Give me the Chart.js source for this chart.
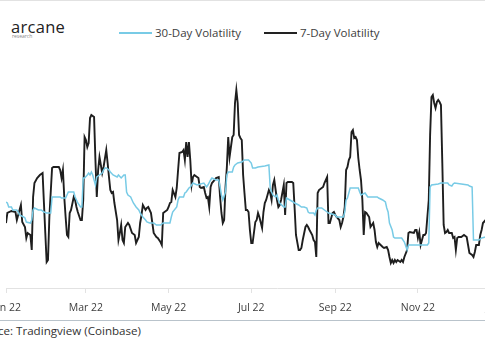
<!DOCTYPE html>
<html>
<head>
<meta charset="utf-8">
<script src="https://cdn.jsdelivr.net/npm/chart.js@4.4.1/dist/chart.umd.min.js"></script>
<style>
  html, body { margin: 0; padding: 0; background: #fff; }
  #wrap { position: relative; width: 485px; height: 360px; overflow: hidden; background: #fff; font-family: "Open Sans", sans-serif; }
  #topline { position: absolute; left: 0; top: 0; width: 485px; height: 1px; background: #e2e2e2; }
  #logo { position: absolute; left: 11px; top: 19px; font-size: 16.5px; line-height: 16px; color: #222; letter-spacing: 0.3px; }
  #logo2 { position: absolute; left: 12px; top: 33px; font-size: 5px; line-height: 6px; color: #888; }
  .lg-line { position: absolute; top: 32px; width: 33px; height: 2px; }
  .lg-text { position: absolute; top: 25px; font-size: 11.5px; line-height: 16px; color: #3d3d3d; white-space: nowrap; }
  #chartbox { position: absolute; left: -40px; top: 0; width: 600px; height: 320px; }
  #bottomline { position: absolute; left: 0; top: 320px; width: 485px; height: 1px; background: #b9c3cb; }
  #source { position: absolute; right: 344px; top: 323px; font-size: 11.6px; line-height: 16px; color: #333; white-space: nowrap; text-align: right; }
</style>
</head>
<body>
<div id="wrap">
  <div id="topline"></div>
  <div id="logo">arcane</div>
  <div id="logo2">research</div>
  <div class="lg-line" style="left:119px;background:#78cbe6;"></div>
  <div class="lg-text" style="left:155px;">30-Day Volatility</div>
  <div class="lg-line" style="left:264px;background:#222;"></div>
  <div class="lg-text" style="left:300px;">7-Day Volatility</div>
  <div id="chartbox"><canvas id="c" width="600" height="320"></canvas></div>
  <div id="bottomline"></div>
  <div id="source">Source: Tradingview (Coinbase)</div>
</div>
<script>
// Day index (0 = 1 Jan 2022) and annualized volatility (%)
const days7 = [0,1,4,7,8,9,11,12,14,15,16,18,19,20,21,23,25,27,28,29,30,31,32,34,35,39,40,41,42,43,44,45,46,47,48,50,51,52,53,55,56,57,58,59,60,61,62,63,65,66,67,68,69,71,72,74,75,76,77,78,79,80,82,83,84,85,86,87,88,90,91,93,95,96,98,99,100,101,103,104,105,107,108,109,110,111,112,114,115,116,117,119,120,121,122,123,125,126,127,128,130,131,132,133,134,135,136,137,138,139,141,142,143,144,146,147,148,149,150,151,152,154,155,157,158,159,160,161,162,163,164,165,166,167,168,169,170,171,172,173,174,175,176,177,178,179,180,181,182,184,185,186,187,189,190,191,192,194,195,196,197,198,200,201,202,203,205,206,207,208,211,212,213,214,216,217,218,219,221,222,223,224,226,227,228,229,230,231,233,234,235,237,238,239,241,242,243,244,246,247,248,249,250,251,252,253,254,255,256,257,258,259,260,261,262,263,264,265,266,267,268,269,271,272,273,274,275,278,279,281,282,283,284,285,286,287,288,289,291,292,293,294,296,297,298,301,302,303,304,305,306,307,308,309,310,312,313,314,315,316,317,318,319,320,321,322,323,324,325,326,327,329,330,331,332,333,334,336,338,340,341,342,344,345,346,347,349,350,351,352,354];
const vol7 = [38.5,43.5,44.5,44,40,42.5,47.5,39,36.5,31,33.5,32.5,25,51.5,58.5,61,62.5,63.5,48.5,33.5,19,20,41.5,66,66.5,66.5,65,61,65,51.5,41.5,32.5,31.5,43.5,45,51.5,50,46.5,44,40,40,50,81.5,80,76.5,78.5,91,92.5,91.5,70,51.5,65,71.5,63.5,66.5,75,68.5,61.5,55,53.5,54,48.5,40,30,33.5,37.5,30,28.5,36.5,38.5,37.5,33.5,32.5,28.5,31.5,38.5,42.5,47.5,45,46,46.5,43.5,38.5,33.5,32.5,31.5,31,29,27.5,43.5,44,45,46.5,48.5,49,55,51.5,56,65,73.5,74,75,70,79,71.5,79,70,57.5,61.5,62.5,61.5,61,56.5,56,56.5,53.5,51,51.5,46.5,56.5,58.5,60,61,61.5,51.5,43.5,38.5,40,56.5,66.5,81.5,71.5,76.5,81.5,82.5,98.5,105,98.5,82.5,81,80,62.5,53.5,45,45,44,35,28.5,28.5,39,40,43.5,41.5,36,44,48.5,50,55,53.5,50,57.5,60,50,46.5,47.5,50,57.5,42.5,58.5,59,59,58.5,46,32.5,25,25,26,30,36.5,37.5,36.5,35,32.5,30,29,21.5,53.5,55,56,56.5,58.5,61.5,38.5,38.5,43.5,44,42.5,41.5,40,36.5,38.5,41.5,46.5,65,66.5,70,71.5,84,85,81,81.5,80,71,65,60,50,32.5,44,43.5,42.5,41.5,36.5,38.5,35,29,26.5,28.5,26.5,26,26.5,25,21.5,18.5,20,18.5,20,19,20,19,20,19,21.5,25,33.5,34,33.5,35,35,31,34,27.5,30,32.5,32.5,33.5,50,82.5,101.5,102.5,98.5,96,99,100,99,97.5,68.5,37.5,33.5,34,35,33.5,33.5,31,31.5,25,31,31.5,31.5,32.5,31.5,27.5,23.5,22.5,21.5,24,27.5,27.5,32.5,35,38.5,40];

const days30 = [0,1,2,4,5,8,9,10,13,14,15,18,19,20,21,24,26,28,30,33,34,37,40,41,44,45,46,50,51,52,53,55,56,57,58,60,61,62,63,64,66,67,69,71,72,73,74,76,77,79,82,83,85,87,88,89,90,92,93,94,96,98,99,101,103,104,106,109,111,114,116,121,122,123,126,127,128,131,132,133,135,136,137,138,141,146,147,148,149,151,152,155,157,158,159,160,162,163,164,167,168,169,171,174,176,179,181,182,184,186,191,194,195,196,197,199,200,201,202,205,206,207,212,213,216,218,220,222,223,224,227,228,229,230,233,235,237,238,243,244,249,250,251,252,254,260,261,262,265,266,267,274,275,278,280,281,282,283,285,286,287,292,294,296,297,298,311,312,313,314,319,321,326,327,329,330,331,336,341,342,344,345,349,351,354];
const vol30 = [49,48.5,46.5,46.5,45,45,44,42.5,41.5,41,39,38.5,40,45,46,45,45,44,43.5,43.5,51.5,51.5,51.5,51,51,52.5,54,54,51.5,50,48.5,46.5,46.5,61,61,62.5,63.5,62.5,64,62.5,57.5,61.5,62.5,63.5,65,66,66,65,64,62.5,61.5,62.5,61,62.5,62.5,54,52.5,51.5,50,48.5,46.5,45,43.5,41.5,40,39,38.5,38.5,37.5,37.5,38.5,38.5,41.5,44,46.5,50,51.5,51.5,53.5,54,56,56.5,57.5,58.5,57.5,58.5,57.5,56.5,57.5,60,61,60,60,56.5,52.5,50,54,62.5,64,64,66.5,67.5,68.5,69,70,70,68.5,66,66,66.5,67,67.5,56,54,52.5,51.5,52.5,50,48.5,46.5,46.5,51,49,48.5,47.5,46.5,46.5,46,44,43.5,43.5,42.5,45,46,46,45,44,43.5,42.5,41.5,41.5,44,50,51,56,56,54,52.5,53.5,52.5,51.5,51.5,51,50,49,46,44,38.5,35,31.5,31,31,29,25,27.5,27.5,27.5,28.5,56.5,57.5,58,58.5,58.5,57.5,57,58,58.5,58,57.5,57,56.5,30,30,31,31.5];

const tickDays = [0, 59, 120, 181, 243, 304, 365];
const tickLabels = ['Jan 22', 'Mar 22', 'May 22', 'Jul 22', 'Sep 22', 'Nov 22', 'Jan 23'];

const toPts = (xs, ys) => xs.map((d, i) => ({ x: d, y: ys[i] }));

new Chart(document.getElementById('c'), {
  type: 'line',
  data: {
    datasets: [
      { label: '30-Day Volatility', data: toPts(days30, vol30), borderColor: '#78cbe6', borderWidth: 1.5, pointRadius: 0, tension: 0, fill: false },
      { label: '7-Day Volatility', data: toPts(days7, vol7), borderColor: '#1e1e1e', borderWidth: 1.9, pointRadius: 0, tension: 0, fill: false }
    ]
  },
  options: {
    responsive: false,
    animation: false,
    devicePixelRatio: 1,
    layout: { padding: { left: 46, right: 12, top: 60, bottom: 0 } },
    plugins: { legend: { display: false }, tooltip: { enabled: false } },
    scales: {
      x: {
        type: 'linear',
        min: 0,
        max: 400,
        afterBuildTicks: (s) => { s.ticks = tickDays.map(v => ({ value: v })); },
        afterFit: (s) => { s.height = 32; },
        ticks: {
          autoSkip: false,
          maxRotation: 0,
          padding: 9,
          color: '#3d3d3d',
          font: { family: 'Open Sans', size: 10.5 },
          callback: (v) => { const i = tickDays.indexOf(v); return i >= 0 ? tickLabels[i] : ''; }
        },
        grid: { display: true, drawOnChartArea: false, drawTicks: true, tickLength: 5, color: '#e2e2e2' },
        border: { display: true, color: '#e2e2e2', width: 1 }
      },
      y: { display: false, min: 6, max: 120 }
    }
  }
});
</script>
</body>
</html>
